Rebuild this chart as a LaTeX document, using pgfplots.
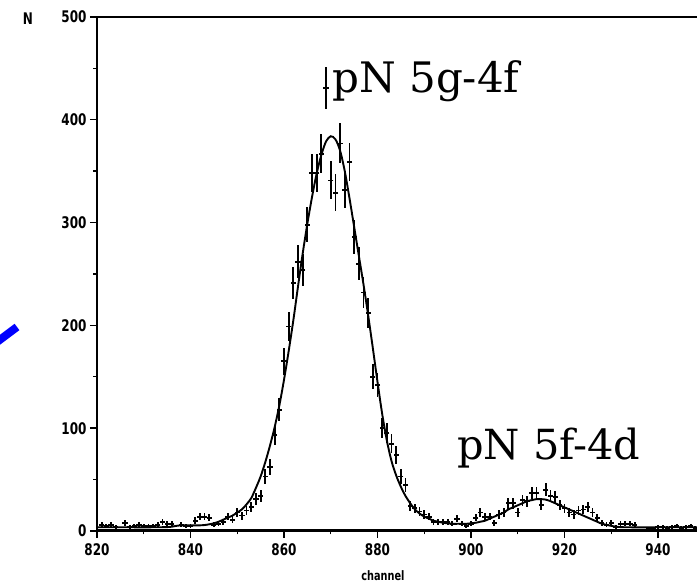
\documentclass[border=0pt]{standalone}
\usepackage{fontspec}
\usepackage{pgfplots}
\usepackage{pgfplotstable}
\pgfplotsset{compat=1.18}
\newfontfamily\tickfont{DejaVu Sans}[FakeStretch=0.75]
\newfontfamily\annfont{DejaVu Serif}

\pgfplotstableread{
x y e
821 6 2.4
822 5 2.2
823 6 2.4
824 4 2
825 1 1
826 8 2.8
827 4 2
828 5 2.2
829 6 2.4
830 5 2.2
831 5 2.2
832 5 2.2
833 6 2.4
834 9 3
835 7 2.6
836 7 2.6
837 1 1
838 6 2.4
839 5 2.2
840 5 2.2
841 10 3.2
842 14 3.7
843 14 3.7
844 13 3.6
845 6 2.4
846 7 2.6
847 9 3
848 14 3.7
849 11 3.3
850 18 4.2
851 15 3.9
852 20 4.5
853 23 4.8
854 31 5.6
855 34 5.8
856 53 7.3
857 62 7.9
858 93 9.6
859 118 10.9
860 165 12.8
861 199 14.1
862 241 15.5
863 262 16.2
864 254 15.9
865 298 17.3
866 348 18.7
867 348 18.7
868 367 19.2
869 431 20.8
870 341 18.5
871 329 18.1
872 377 19.4
873 332 18.2
874 359 18.9
875 286 16.9
876 260 16.1
877 232 15.2
878 212 14.6
879 150 12.2
880 142 11.9
881 100 10
882 95 9.7
883 85 9.2
884 74 8.6
885 53 7.3
886 45 6.7
887 24 4.9
888 22 4.7
889 19 4.4
890 16 4
891 14 3.7
892 9 3
893 9 3
894 9 3
895 9 3
896 7 2.6
897 12 3.5
898 7 2.6
899 5 2.2
900 7 2.6
901 13 3.6
902 18 4.2
903 14 3.7
904 14 3.7
905 8 2.8
906 16 4
907 18 4.2
908 27 5.2
909 27 5.2
910 18 4.2
911 30 5.5
912 29 5.4
913 37 6.1
914 37 6.1
915 25 5
916 40 6.3
917 34 5.8
918 33 5.7
919 25 5
920 22 4.7
921 18 4.2
922 16 4
923 20 4.5
924 21 4.6
925 23 4.8
926 18 4.2
927 13 3.6
928 8 2.8
929 6 2.4
930 8 2.8
931 4 2
932 7 2.6
933 7 2.6
934 7 2.6
935 6 2.4
936 1 1
937 1 1
938 2 1.4
939 2 1.4
940 4 2
941 4 2
942 3 1.7
943 4 2
944 5 2.2
945 3 1.7
946 4 2
947 5 2.2
948 3 1.7
}\datatable

\pgfplotstableread{
x y
820 3.6
826 3.6
832 3.6
835 3.8
836 4.2
837 5
838 5.5
839 5.5
840 5.5
841 5.5
842 5.5
843 5.8
844 6.5
845 7.5
846 9
847 11
848 13
849 15
850 18
851 21
852 26
853 32
854 42
855 53
856 67
857 83
858 101
859 122
860 147
861 175
862 205
863 238
864 270
865 299
866 325
867 348
868 366
869 379
870 384
871 381
872 370
873 350
874 324
875 296
876 268
877 240
878 210
879 178
880 145
881 114
882 88
883 68
884 54
885 43
886 34
887 27
888 21
889 17
890 14
891 12
892 10
893 9
894 8
895 7.5
896 7
897 7
898 7
899 7
900 7.5
901 8
902 9
903 10
904 12
905 14
906 16
907 18
908 21
909 23
910 25
911 27
912 29
913 30
914 31
915 31
916 30.5
917 29
918 27
919 25
920 23
921 21
922 19
923 17
924 15
925 13
926 11
927 9
928 7
929 6
930 5
931 4.2
932 3.8
934 3.6
940 3.6
948.3 3.6
}\fittable

\begin{document}
\begin{tikzpicture}
\path[use as bounding box] (-97pt,-57pt) rectangle (600pt,531pt);
\clip (-97pt,-57pt) rectangle (600pt,531pt);
\begin{axis}[
  at={(0pt,0pt)}, anchor=south west,
  scale only axis,
  width=599.8pt, height=514pt,
  xmin=820, xmax=948.3, ymin=0, ymax=500,
  axis x line*=box, axis y line*=left,
  axis line style={line width=1.8pt},
  xtick={820,840,...,940}, ytick={0,100,...,500},
  minor x tick num=1, minor y tick num=1,
  xtick pos=bottom, ytick pos=left,
  tick align=outside,
  major tick length=7pt, minor tick length=3.5pt,
  every tick/.style={line width=1.4pt, black},
  /pgf/number format/assume math mode=true,
  tick label style={font=\tickfont\bfseries\fontsize{16}{16}\selectfont},
  xticklabel style={yshift=-2pt},
  clip=false,
]
\addplot[line width=1.3pt, black] coordinates {(820,1.2) (948.3,1.2)};
\addplot[smooth, line width=1.9pt, black] table[x=x,y=y] {\fittable};
\addplot[only marks, mark=-, mark size=2.6pt, black, line width=1.8pt,
  error bars/.cd, y dir=both, y explicit, error mark=none,
  error bar style={line width=1.8pt, black}]
  table[x=x, y=y, y error=e] {\datatable};
\node[anchor=base west, font=\annfont\fontsize{42}{42}\selectfont, inner sep=0pt] at (axis cs:870.3,427) {pN 5g-4f};
\node[anchor=base west, font=\annfont\fontsize{41.5}{41.5}\selectfont, inner sep=0pt] at (axis cs:897,70) {pN 5f-4d};
\end{axis}
\node[font=\tickfont\bfseries\fontsize{16}{16}\selectfont] at (-69pt,512pt) {N};
\node[font=\tickfont\bfseries\fontsize{13}{13}\selectfont] at (286pt,-45pt) {channel};
\draw[blue, line width=8pt] (-100pt,189pt) -- (-80pt,204pt);
\end{tikzpicture}
\end{document}
